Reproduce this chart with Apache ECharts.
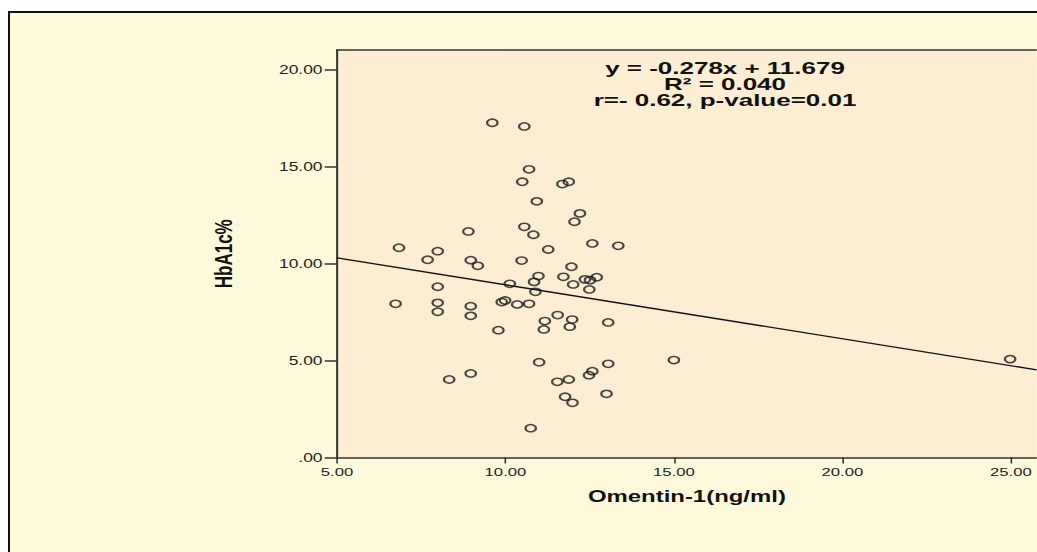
<!DOCTYPE html>
<html>
<head>
<meta charset="utf-8">
<script src="https://cdn.jsdelivr.net/npm/echarts@6/dist/echarts.min.js"></script>
<style>
  html, body { margin: 0; padding: 0; background: #fff; width: 1037px; height: 552px; overflow: hidden; }
  #frame { position: absolute; left: 8px; top: 11px; width: 1100px; height: 620px;
           border: 2px solid #111; background: #fffadc; box-sizing: border-box; }
  #chart { position: absolute; left: 0; top: 0; height: 552px; transform-origin: 0 0; }
</style>
</head>
<body>
<div id="frame"></div>
<div id="chart"></div>
<script>
// Omentin-1 (ng/ml) against HbA1c (%) for each subject
const omentin = [6.84, 6.74, 7.69, 7.99, 7.99, 7.99, 7.99, 8.33, 8.97, 9.18,
                 8.97, 8.97, 8.97, 9.79, 9.89, 9.99, 10.13, 10.48, 10.35, 10.70,
                 10.75, 10.85, 10.98, 10.89, 11.00, 11.17, 11.14, 11.27, 11.55, 11.54,
                 11.72, 11.77, 11.88, 11.96, 12.01, 11.98, 11.91, 11.99, 12.36, 12.51,
                 12.71, 12.49, 12.58, 12.48, 12.58, 13.05, 13.05, 13.00, 13.35, 15.00,
                 9.61, 10.56, 10.70, 10.50, 11.69, 11.88, 10.93, 12.21, 12.05, 8.90,
                 10.56, 10.83, 24.98];
const hba1c = [10.81, 7.92, 10.19, 10.63, 8.80, 7.97, 7.51, 4.02, 10.17, 9.88,
               7.80, 7.30, 4.33, 6.56, 8.01, 8.09, 8.95, 10.15, 7.89, 7.92,
               1.51, 9.05, 9.35, 8.54, 4.91, 7.03, 6.60, 10.72, 7.34, 3.90,
               9.31, 3.13, 4.02, 9.83, 8.92, 7.11, 6.74, 2.82, 9.18, 9.14,
               9.29, 8.66, 11.03, 4.24, 4.45, 6.96, 4.83, 3.28, 10.91, 5.02,
               17.25, 17.06, 14.85, 14.21, 14.09, 14.21, 13.20, 12.58, 12.15, 11.65,
               11.89, 11.48, 5.07];

// Axis ticks and labels
const xTicks = [5, 10, 15, 20, 25];
const yTicks = [0, 5, 10, 15, 20];
const xTickLabels = ['5.00', '10.00', '15.00', '20.00', '25.00'];
const yTickLabels = ['.00', '5.00', '10.00', '15.00', '20.00'];

// Linear fit and correlation statistics
const slope = -0.278;
const intercept = 11.679;
const rSquared = 0.040;
const rValue = 0.62;
const pValue = 0.01;

const xMin = 5, xMax = 25.77, yMin = 0, yMax = 21;

// The chart is laid out narrow and widened horizontally
const STRETCH = 1.45;
const el = document.getElementById('chart');
el.style.width = (1037 / STRETCH) + 'px';
el.style.transform = 'scaleX(' + STRETCH + ')';

const points = omentin.map((x, i) => [x, hba1c[i]]);
const fitLine = [xMin, xMax].map(x => [x, slope * x + intercept]);

const FONT = '"Liberation Sans", Arial, sans-serif';
const INK = '#222';

const statsLines = [
  'y = ' + slope.toFixed(3) + 'x + ' + intercept.toFixed(3),
  'R\u00b2 = ' + rSquared.toFixed(3),
  'r=- ' + rValue.toFixed(2) + ', p-value=' + pValue.toFixed(2)
];

const chart = echarts.init(el, null, { renderer: 'svg' });
chart.setOption({
  animation: false,
  backgroundColor: 'transparent',
  grid: {
    left: 337 / STRETCH, right: 0, top: 50, bottom: 94.5,
    show: true, backgroundColor: '#fdedd2', borderWidth: 0
  },
  xAxis: [{
    type: 'value', min: xMin, max: xMax, position: 'bottom',
    name: 'Omentin-1(ng/ml)', nameLocation: 'middle', nameGap: 30,
    nameTextStyle: { fontFamily: FONT, fontWeight: 'bold', fontSize: 16.5, color: '#111' },
    axisLine: { show: true, lineStyle: { color: '#333', width: 1.6 } },
    axisTick: { show: true, length: 6, customValues: xTicks, lineStyle: { color: '#333', width: 1.1 } },
    axisLabel: {
      customValues: xTicks, margin: 8,
      fontFamily: FONT, fontSize: 11.5, color: INK,
      formatter: v => xTickLabels[xTicks.indexOf(v)] || ''
    },
    splitLine: { show: false }
  }, {
    type: 'value', min: xMin, max: xMax, position: 'top',
    axisLine: { show: true, lineStyle: { color: '#333', width: 1.6 } },
    axisTick: { show: false }, axisLabel: { show: false }, splitLine: { show: false }
  }],
  yAxis: {
    type: 'value', min: yMin, max: yMax,
    name: 'HbA1c%', nameLocation: 'middle', nameRotate: 90, nameGap: 70,
    nameTextStyle: { fontFamily: FONT, fontWeight: 'bold', fontSize: 17, color: '#111' },
    axisLine: { show: true, lineStyle: { color: '#333', width: 1.4 } },
    axisTick: { show: true, length: 8.5, customValues: yTicks, lineStyle: { color: '#333', width: 1.5 } },
    axisLabel: {
      customValues: yTicks, margin: 10,
      fontFamily: FONT, fontSize: 12, color: INK,
      formatter: v => yTickLabels[yTicks.indexOf(v)] || ''
    },
    splitLine: { show: false }
  },
  graphic: [{
    type: 'text', x: 725 / STRETCH, y: 84.5, z: 100, scaleX: 1.12,
    style: {
      text: statsLines.join('\n'),
      font: 'bold 16px ' + FONT,
      fill: '#111', align: 'center', verticalAlign: 'middle', lineHeight: 16
    }
  }],
  series: [{
    type: 'line', data: fitLine, symbol: 'none', silent: true,
    lineStyle: { color: '#111', width: 1.4 }, z: 2
  }, {
    type: 'scatter', data: points, symbol: 'circle', symbolSize: 7.2, z: 3,
    itemStyle: { color: 'rgba(0,0,0,0)', borderColor: '#1c1c1c', borderWidth: 1.5 },
    emphasis: { disabled: true }
  }]
});
</script>
</body>
</html>
